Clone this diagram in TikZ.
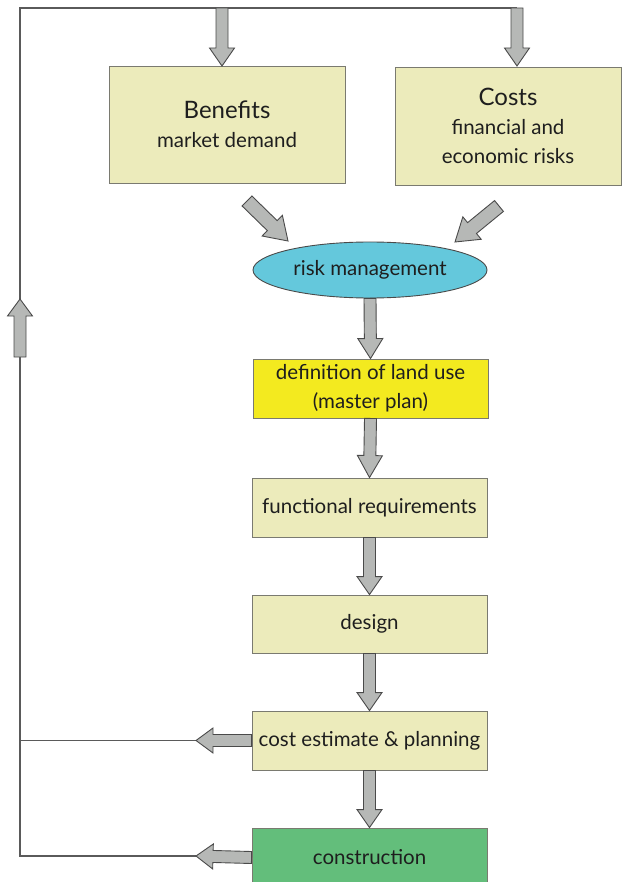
\documentclass[tikz,border=0pt]{standalone}
\usepackage{fontspec}
\setmainfont{Lato}
\usetikzlibrary{calc,shapes.geometric}

\definecolor{boxfill}{HTML}{ECEBBB}
\definecolor{boxline}{HTML}{7A7A70}
\definecolor{landfill}{HTML}{F3EA1F}
\definecolor{riskfill}{HTML}{64C8DC}
\definecolor{buildfill}{HTML}{63BE7B}
\definecolor{arrowfill}{HTML}{B6B8B6}
\definecolor{arrowline}{HTML}{4A4A4A}
\definecolor{lineg}{HTML}{5A5A5A}
\definecolor{textc}{HTML}{1E1E1E}

% block arrow from tail #1 to tip #2; #3 head length, #4 half shaft width, #5 half head width
\newcommand\flowarrowx[5]{%
  \coordinate (fa-neck) at ($(#2)!#3pt!(#1)$);
  \path[arrowbody] ($(#1)!#4pt!90:(#2)$) -- ($(fa-neck)!#4pt!90:(#2)$)
    -- ($(fa-neck)!#5pt!90:(#2)$) -- (#2) -- ($(fa-neck)!#5pt!-90:(#2)$)
    -- ($(fa-neck)!#4pt!-90:(#2)$) -- ($(#1)!#4pt!-90:(#2)$) -- cycle;
}
\newcommand\flowarrow[3][18]{\flowarrowx{#2}{#3}{#1}{6}{12.5}}
\newcommand\headtext[1]{{\fontsize{24}{28}\selectfont #1}}

\begin{document}
\begin{tikzpicture}[x=1pt,y=-1pt,
  box/.style={draw=boxline, fill=boxfill, line width=0.9pt, inner sep=0pt,
    align=center, text=textc, font=\fontsize{20.5}{29}\selectfont},
  feedline/.style={draw=lineg, line width=1.1pt},
  arrowbody/.style={fill=arrowfill, draw=arrowline, line width=0.9pt, line join=miter}]
\useasboundingbox (0,0) rectangle (621,882);

% boxes
\node[box, minimum width=236pt, minimum height=117pt] (benefits) at (227,124.5)
  {\headtext{Benefits}\\market demand};
\node[box, minimum width=226pt, minimum height=118pt] (costs) at (508,126)
  {\headtext{Costs}\\financial and\\economic risks};
\node[box, ellipse, fill=riskfill, draw=arrowline, minimum width=234pt, minimum height=56pt]
  (risk) at (370,270) {risk management};
\node[box, fill=landfill, minimum width=235pt, minimum height=59pt] (land) at (370.5,388.5)
  {definition of land use\\(master plan)};
\node[box, minimum width=235pt, minimum height=59pt] (func) at (369.5,507.5) {functional requirements};
\node[box, minimum width=235pt, minimum height=58pt] (design) at (369.5,624) {design};
\node[box, minimum width=235pt, minimum height=59pt] (estimate) at (369.5,740.5) {cost estimate \& planning};
\node[box, fill=buildfill, minimum width=235pt, minimum height=59pt] (build) at (369.5,857.5) {construction};

% feedback loop
\coordinate (corner-tl) at (20,8);
\coordinate (feed-b) at (222,8);
\coordinate (feed-c) at (517,8);
\coordinate (in-b) at (222,66);
\coordinate (in-c) at (517,66);
\coordinate (est-tip) at (196,740.5);
\coordinate (build-tip) at (196,856);
\coordinate (up-tail) at (20,357);
\coordinate (up-tip) at (20,299);
\draw[feedline] (build-tip) -- (build-tip -| corner-tl) -- (corner-tl) -- (feed-c);
\draw[feedline] (est-tip) -- (est-tip -| corner-tl);

% arrows
\flowarrow{feed-b}{in-b}
\flowarrow{feed-c}{in-c}
\flowarrow[17]{up-tail}{up-tip}
\coordinate (diag-l-tail) at (247,201);
\coordinate (diag-l-tip) at (288,241);
\coordinate (diag-r-tail) at (499,206);
\coordinate (diag-r-tip) at (455,242);
\flowarrowx{diag-l-tail}{diag-l-tip}{22}{7}{14.5}
\flowarrowx{diag-r-tail}{diag-r-tip}{22}{7}{14.5}
\flowarrow[20]{risk.south}{land.north}
\flowarrow[22]{land.south}{func.north}
\flowarrow[18]{func.south}{design.north}
\flowarrow[18]{design.south}{estimate.north}
\flowarrow[18]{estimate.south}{build.north}
\flowarrow[17]{estimate.west}{est-tip}
\flowarrow[17]{build.west}{build-tip}
\end{tikzpicture}
\end{document}
